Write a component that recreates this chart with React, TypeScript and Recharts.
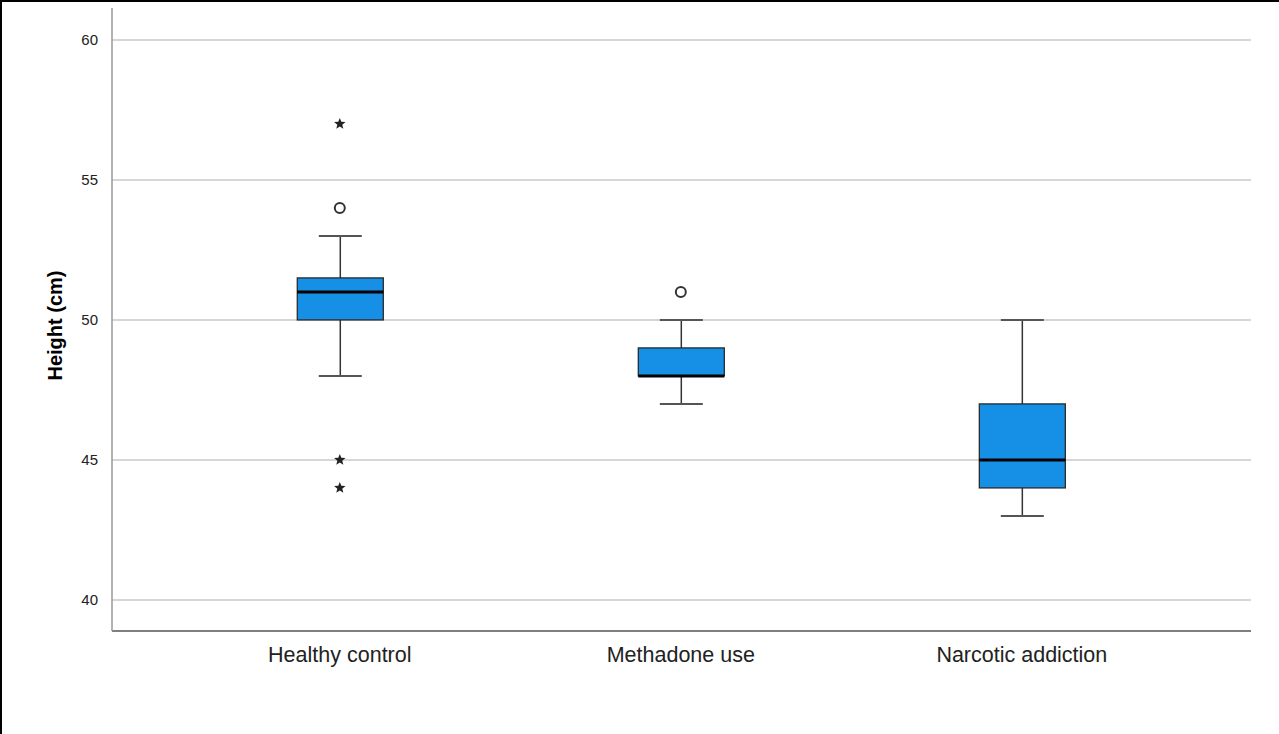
import React from "react";
import { Bar, CartesianGrid, ComposedChart, Scatter, XAxis, YAxis } from "recharts";

// groups and five-number summaries
const categories = ["Healthy control", "Methadone use", "Narcotic addiction"];
const whiskerLow = [48, 47, 43];
const quartile1 = [50, 48, 44];
const medians = [51, 48, 45];
const quartile3 = [51.5, 49, 47];
const whiskerHigh = [53, 50, 50];

// outliers: group index + value
const circleOutliers = [
  { x: 0, value: 54 },
  { x: 1, value: 51 },
];
const starOutliers = [
  { x: 0, value: 57 },
  { x: 0, value: 45 },
  { x: 0, value: 44 },
];

const yTicks = [40, 45, 50, 55, 60];

const boxes = categories.map((name, i) => ({
  x: i,
  name,
  low: whiskerLow[i],
  q1: quartile1[i],
  median: medians[i],
  q3: quartile3[i],
  high: whiskerHigh[i],
  range: [whiskerLow[i], whiskerHigh[i]],
}));

const FONT = "'Liberation Sans', Arial, sans-serif";

function BoxShape(props: any) {
  const { x, y, width, height, payload } = props;
  const top = Math.min(y, y + height);
  const bottom = Math.max(y, y + height);
  const k = (bottom - top) / (payload.high - payload.low);
  const yOf = (v: number) => bottom - (v - payload.low) * k;
  const cx = x + width / 2;
  const cap = width / 4;
  return (
    <g>
      <line x1={cx} x2={cx} y1={yOf(payload.high)} y2={yOf(payload.low)} stroke="#333" strokeWidth={1.5} />
      <line x1={cx - cap} x2={cx + cap} y1={yOf(payload.high)} y2={yOf(payload.high)} stroke="#555" strokeWidth={2} />
      <line x1={cx - cap} x2={cx + cap} y1={yOf(payload.low)} y2={yOf(payload.low)} stroke="#555" strokeWidth={2} />
      <rect
        x={x}
        y={yOf(payload.q3)}
        width={width}
        height={yOf(payload.q1) - yOf(payload.q3)}
        fill="#1590e6"
        stroke="#2a2a2a"
        strokeWidth={1.3}
      />
      <line x1={x} x2={x + width} y1={yOf(payload.median)} y2={yOf(payload.median)} stroke="#000" strokeWidth={3} />
    </g>
  );
}

function CircleShape(props: any) {
  const { cx, cy } = props;
  return <circle cx={cx} cy={cy} r={5} fill="#fff" stroke="#333" strokeWidth={2} />;
}

function StarShape(props: any) {
  const { cx, cy } = props;
  const pts: string[] = [];
  for (let i = 0; i < 10; i++) {
    const r = i % 2 === 0 ? 6 : 2.6;
    const a = -Math.PI / 2 + (i * Math.PI) / 5;
    pts.push(`${cx + r * Math.cos(a)},${cy + r * Math.sin(a)}`);
  }
  return <polygon points={pts.join(" ")} fill="#222" />;
}

export default function App() {
  return (
    <div style={{ position: "absolute", left: 0, top: 0, width: 1279, height: 734, background: "#fff" }}>
      <ComposedChart
        width={1279}
        height={734}
        data={boxes}
        margin={{ top: 8, right: 28, bottom: 0, left: 0 }}
      >
        <CartesianGrid vertical={false} horizontalValues={yTicks} stroke="#c8c8c8" strokeWidth={1.5} />
        <XAxis
          type="number"
          dataKey="x"
          domain={[-0.668, 2.672]}
          ticks={[0, 1, 2]}
          tickFormatter={(i: number) => categories[i]}
          height={103}
          stroke="#555"
          strokeWidth={1.5}
          tickLine={false}
          tickMargin={10}
          tick={{ fontSize: 21.5, fill: "#222", fontFamily: FONT }}
          allowDataOverflow
        />
        <YAxis
          type="number"
          domain={[38.89, 61.14]}
          ticks={yTicks}
          width={112}
          stroke="#999"
          strokeWidth={1.5}
          tickLine={false}
          tickMargin={8}
          tick={{ fontSize: 15, fill: "#222", fontFamily: FONT }}
          allowDataOverflow
          label={{
            value: "Height (cm)",
            angle: -90,
            position: "center",
            dx: -1,
            dy: 6,
            style: { fontSize: 20, fontWeight: "bold", fill: "#000", fontFamily: FONT },
          }}
        />
        <Bar dataKey="range" barSize={86} shape={<BoxShape />} isAnimationActive={false} />
        <Scatter data={circleOutliers} dataKey="value" shape={<CircleShape />} isAnimationActive={false} />
        <Scatter data={starOutliers} dataKey="value" shape={<StarShape />} isAnimationActive={false} />
      </ComposedChart>
      <div
        style={{
          position: "absolute",
          left: 0,
          top: 0,
          width: 1279,
          height: 734,
          boxSizing: "border-box",
          borderTop: "2px solid #000",
          borderLeft: "2px solid #000",
          pointerEvents: "none",
        }}
      />
    </div>
  );
}
